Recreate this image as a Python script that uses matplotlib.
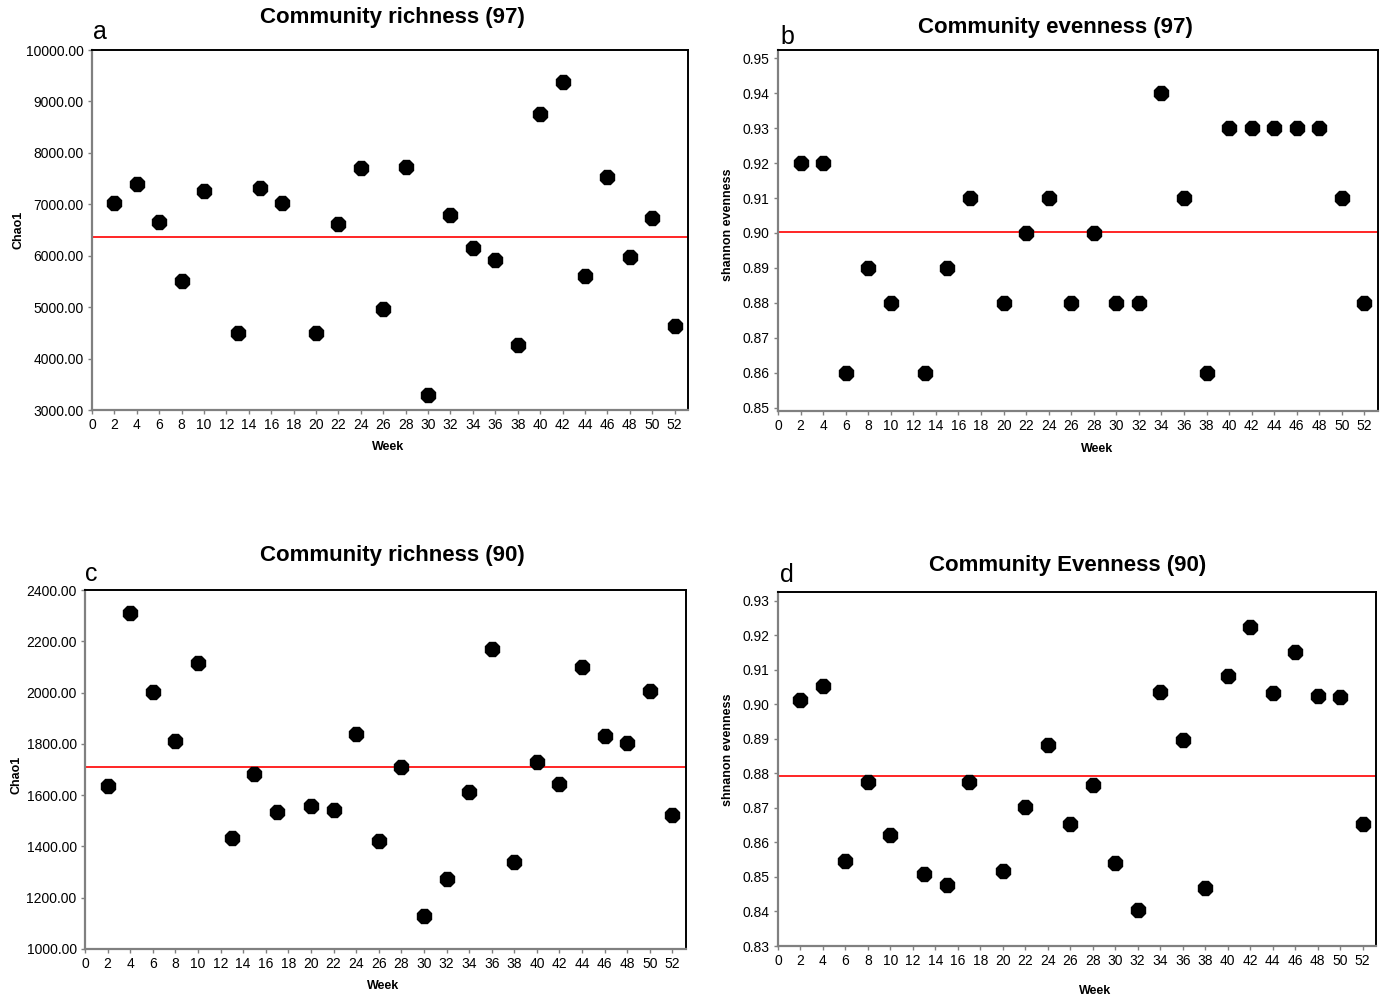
import numpy as np
import matplotlib
matplotlib.use("Agg")
import matplotlib.pyplot as plt
from matplotlib.ticker import FormatStrFormatter

plt.rcParams["font.family"] = ["Liberation Sans", "DejaVu Sans"]

# ─── data ────────────────────────────────────────────────────────────────────
weeks = [2, 4, 6, 8, 10, 13, 15, 17, 20, 22, 24, 26, 28,
         30, 32, 34, 36, 38, 40, 42, 44, 46, 48, 50, 52]

chao1_97 = [7020, 7400, 6650, 5500, 7260, 4500, 7310, 7020, 4500, 6620, 7710, 4970, 7730,
            3300, 6790, 6150, 5920, 4260, 8760, 9370, 5600, 7530, 5970, 6740, 4640]

even_97 = [0.92, 0.92, 0.86, 0.89, 0.88, 0.86, 0.89, 0.91, 0.88, 0.90, 0.91, 0.88, 0.90,
           0.88, 0.88, 0.94, 0.91, 0.86, 0.93, 0.93, 0.93, 0.93, 0.93, 0.91, 0.88]

chao1_90 = [1636, 2312, 2003, 1813, 2117, 1434, 1681, 1533, 1558, 1543, 1838, 1422, 1710,
            1129, 1274, 1613, 2169, 1339, 1730, 1643, 2101, 1831, 1803, 2007, 1522]

even_90 = [0.9013, 0.9054, 0.8546, 0.8776, 0.8622, 0.8509, 0.8476, 0.8776, 0.8517, 0.8702,
           0.8884, 0.8655, 0.8767, 0.8541, 0.8405, 0.9037, 0.8896, 0.8468, 0.9083, 0.9226,
           0.9032, 0.9151, 0.9026, 0.9021, 0.8655]

xticks = list(range(0, 53, 2))

W, H = 1400, 999
fig = plt.figure(figsize=(W / 100, H / 100), dpi=100)


def px_axes(left, top, right, bottom):
    return fig.add_axes([left / W, 1 - bottom / H, (right - left) / W, (bottom - top) / H])


panels = [
    dict(box=(92, 50, 688, 410), y=chao1_97, ylim=(3000, 10000), yt=np.arange(3000, 10001, 1000),
         fmt="%.2f", ylab="Chao1", title="Community richness (97)", letter="a",
         txy=(392, 18), lxy=(100, 32), wxy=(388, 447), yxy=(18, 230)),
    dict(box=(778, 50, 1378, 411), y=even_97, ylim=(0.849, 0.9524), yt=np.arange(0.85, 0.951, 0.01),
         fmt="%.2f", ylab="shannon evenness", title="Community evenness (97)", letter="b",
         txy=(1055, 27), lxy=(787, 37), wxy=(1097, 449), yxy=(728, 225)),
    dict(box=(85, 590, 686, 949), y=chao1_90, ylim=(1000, 2400), yt=np.arange(1000, 2401, 200),
         fmt="%.2f", ylab="Chao1", title="Community richness (90)", letter="c",
         txy=(392, 556), lxy=(91, 574), wxy=(383, 986), yxy=(16, 775)),
    dict(box=(778, 592, 1376, 946), y=even_90, ylim=(0.83, 0.9326), yt=np.arange(0.83, 0.931, 0.01),
         fmt="%.2f", ylab="shnanon evenness", title="Community Evenness (90)", letter="d",
         txy=(1068, 566), lxy=(787, 575), wxy=(1095, 991), yxy=(728, 750)),
]

for p in panels:
    ax = px_axes(*p["box"])
    yv = np.array(p["y"])

    ax.plot(weeks, yv, linestyle="none", marker="8", markersize=11,
            color="black", markeredgecolor="black", zorder=3)
    # mean reference line
    ax.axhline(yv.mean(), color="#ff0000", linewidth=1.2, zorder=2)

    ax.set_xlim(0, 53.2)
    ax.set_ylim(*p["ylim"])
    ax.set_xticks(xticks)
    ax.set_yticks(p["yt"])
    ax.yaxis.set_major_formatter(FormatStrFormatter(p["fmt"]))
    ax.tick_params(axis="both", direction="out", length=3, width=1,
                   color="#808080", labelsize=10, pad=3)

    for side in ("left", "bottom"):
        ax.spines[side].set_color("#808080")
        ax.spines[side].set_linewidth(1.6)
    for side in ("top", "right"):
        ax.spines[side].set_color("black")
        ax.spines[side].set_linewidth(1.4)

    tx, ty = p["txy"]
    fig.text(tx / W, 1 - ty / H, p["title"], ha="center", va="center",
             fontsize=16, fontweight="bold")
    lx, ly = p["lxy"]
    fig.text(lx / W, 1 - ly / H, p["letter"], ha="center", va="center", fontsize=18)
    wx, wy = p["wxy"]
    fig.text(wx / W, 1 - wy / H, "Week", ha="center", va="center",
             fontsize=9, fontweight="bold")
    yx, yy = p["yxy"]
    fig.text(yx / W, 1 - yy / H, p["ylab"], ha="center", va="center",
             fontsize=9, fontweight="bold", rotation=90)

fig.savefig("out.png", dpi=100, facecolor="white")
